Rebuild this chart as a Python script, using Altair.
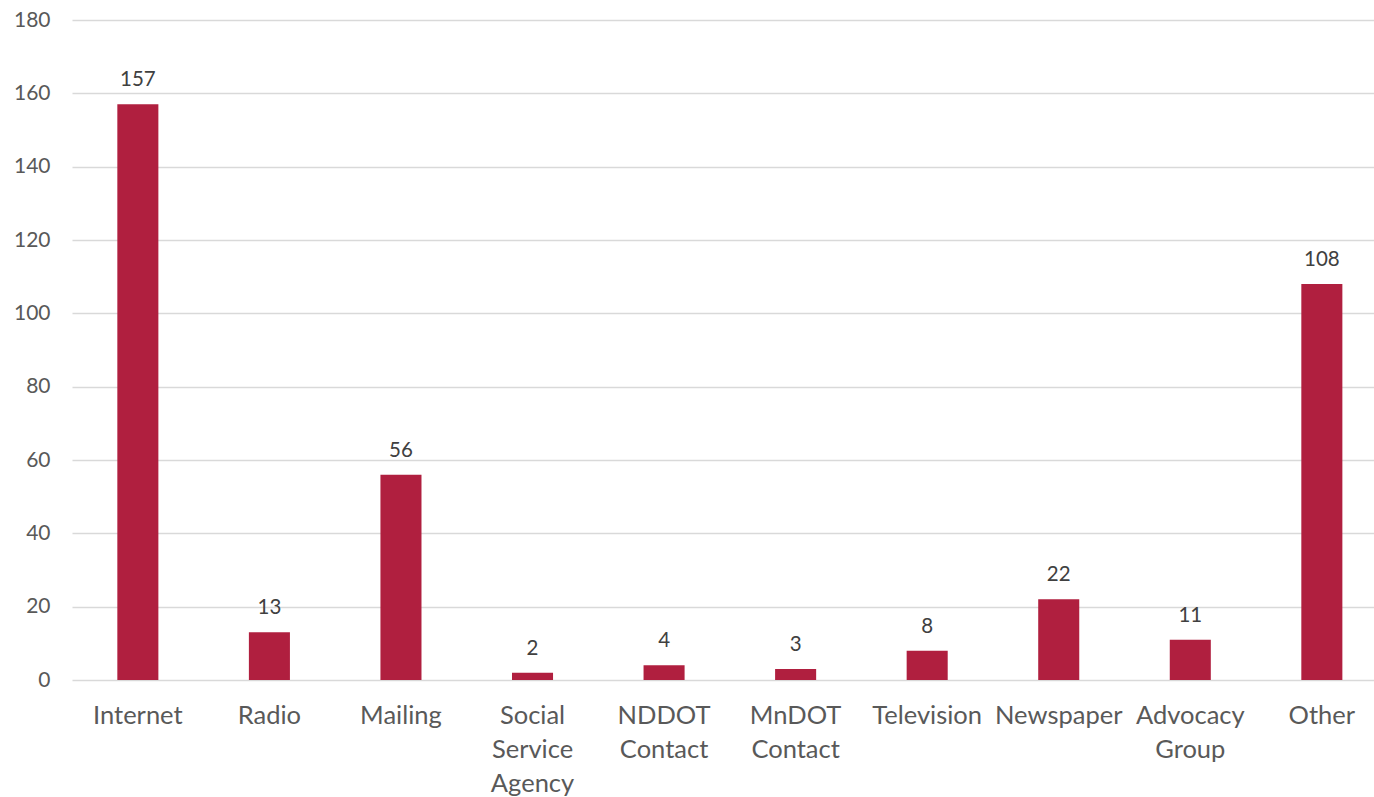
import altair as alt
import pandas as pd

categories = ["Internet", "Radio", "Mailing", "Social Service Agency", "NDDOT Contact",
              "MnDOT Contact", "Television", "Newspaper", "Advocacy Group", "Other"]
label_lines = [["Internet"], ["Radio"], ["Mailing"], ["Social", "Service", "Agency"],
               ["NDDOT", "Contact"], ["MnDOT", "Contact"], ["Television"], ["Newspaper"],
               ["Advocacy", "Group"], ["Other"]]
values = [157, 13, 56, 2, 4, 3, 8, 22, 11, 108]

df = pd.DataFrame({"cat": categories, "value": values})

label_expr = "{" + ",".join(
    '"%s": %s' % (c, "[" + ",".join('"%s"' % s for s in lines) + "]")
    for c, lines in zip(categories, label_lines)
) + "}[datum.value]"

FONT = "Lato"

x = alt.X("cat:N", sort=categories, title=None,
          scale=alt.Scale(paddingInner=0.688, paddingOuter=0.2925, align=0.589),
          axis=alt.Axis(labelExpr=label_expr, labelAngle=0, labelFontSize=25.5,
                        labelFont=FONT, labelColor="#595959", labelLineHeight=34,
                        labelBaseline="top", labelPadding=23, ticks=False,
                        domain=False, labelOverlap=False, labelBound=False, labelLimit=300))
y = alt.Y("value:Q", title=None,
          scale=alt.Scale(domain=[0, 180], nice=False),
          axis=alt.Axis(values=list(range(0, 181, 20)), labelFontSize=21, labelFont=FONT,
                        labelColor="#595959", labelPadding=22, ticks=False, domain=False,
                        gridColor="#D9D9D9", gridWidth=1.5))

bars = alt.Chart(df).mark_bar(color="#B01F3F").encode(x=x, y=y)
text = alt.Chart(df).mark_text(font=FONT, fontSize=20.5, color="#404040",
                               baseline="alphabetic", dy=-18).encode(
    x=alt.X("cat:N", sort=categories), y="value:Q", text="value:Q")

chart = (bars + text).properties(
    width=1302, height=660,
    autosize=alt.AutoSizeParams(type="none"),
    padding={"left": 72, "top": 20, "right": 0, "bottom": 117},
    background="white",
).configure_view(stroke=None)

chart.save("out.html", embed_options={"renderer": "svg", "actions": False})
